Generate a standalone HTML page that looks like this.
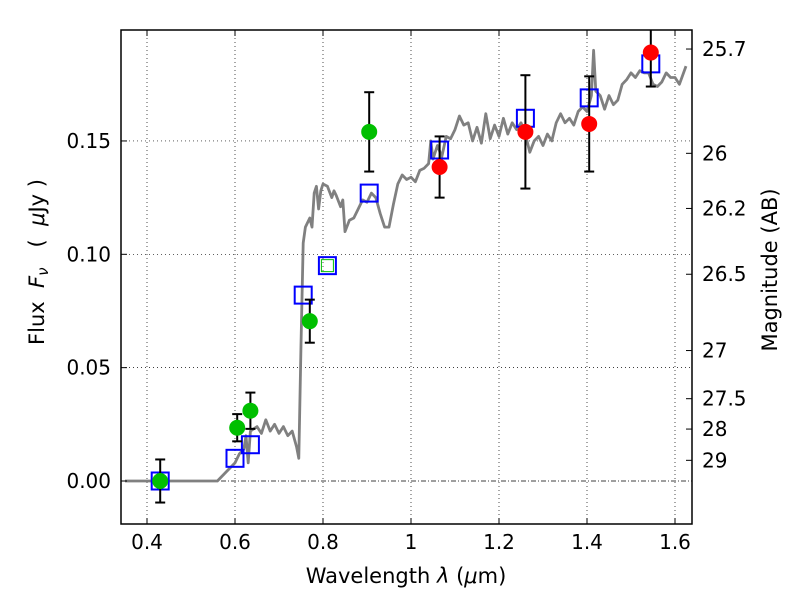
<!DOCTYPE html>
<html><head><meta charset="utf-8"><style>
body{margin:0;background:#fff}
svg{display:block;font-family:"DejaVu Sans","Liberation Sans",sans-serif}
</style></head><body>
<svg id="c" width="800" height="600"><defs><clipPath id="clip"><rect x="121" y="30" width="571" height="494"/></clipPath></defs></svg>
<script>
const modelWave=[0.35,0.56,0.58,0.60,0.61,0.62,0.625,0.63,0.635,0.65,0.66,0.67,0.68,0.69,0.70,0.71,0.72,0.73,0.74,0.745,0.75,0.755,0.76,0.77,0.775,0.78,0.785,0.79,0.795,0.80,0.81,0.82,0.825,0.83,0.84,0.845,0.85,0.86,0.87,0.88,0.89,0.90,0.91,0.92,0.93,0.94,0.95,0.96,0.97,0.98,0.99,1.00,1.01,1.02,1.03,1.04,1.045,1.05,1.06,1.07,1.08,1.09,1.10,1.11,1.12,1.13,1.14,1.15,1.16,1.17,1.18,1.19,1.20,1.21,1.22,1.23,1.24,1.25,1.26,1.27,1.28,1.29,1.30,1.31,1.32,1.33,1.34,1.35,1.36,1.37,1.38,1.39,1.40,1.41,1.415,1.42,1.43,1.44,1.45,1.46,1.47,1.48,1.49,1.50,1.51,1.52,1.53,1.54,1.55,1.56,1.57,1.58,1.59,1.60,1.61,1.625];
const modelFlux=[0,0,0.004,0.008,0.012,0.014,0.02,0.008,0.022,0.024,0.021,0.027,0.022,0.025,0.021,0.024,0.02,0.022,0.015,0.01,0.06,0.105,0.112,0.116,0.112,0.127,0.13,0.12,0.128,0.131,0.13,0.125,0.128,0.126,0.121,0.124,0.11,0.115,0.116,0.12,0.124,0.123,0.127,0.125,0.118,0.112,0.112,0.122,0.131,0.135,0.133,0.134,0.132,0.137,0.138,0.14,0.15,0.142,0.148,0.143,0.152,0.151,0.155,0.161,0.157,0.158,0.15,0.156,0.149,0.162,0.151,0.157,0.152,0.16,0.153,0.158,0.155,0.158,0.153,0.145,0.15,0.152,0.148,0.153,0.15,0.158,0.162,0.158,0.16,0.157,0.163,0.165,0.163,0.17,0.19,0.172,0.17,0.164,0.17,0.166,0.168,0.175,0.177,0.18,0.178,0.181,0.18,0.18,0.175,0.174,0.176,0.18,0.178,0.178,0.175,0.183];
const greenWave=[0.43,0.605,0.635,0.77,0.905];
const greenFlux=[0.0,0.0235,0.031,0.0705,0.154];
const greenErr=[0.0095,0.006,0.008,0.0095,0.0175];
const redWave=[1.065,1.26,1.405,1.545];
const redFlux=[0.1385,0.154,0.1575,0.189];
const redErr=[0.0135,0.025,0.021,0.015];
const modelBandWave=[0.43,0.6,0.635,0.755,0.81,0.905,1.065,1.26,1.405,1.545];
const modelBandFlux=[0.0,0.01,0.016,0.082,0.095,0.127,0.146,0.16,0.169,0.184];
const xTicks=[0.4,0.6,0.8,1.0,1.2,1.4,1.6];
const xTickLabels=["0.4","0.6","0.8","1","1.2","1.4","1.6"];
const yTicks=[0,0.05,0.10,0.15];
const yTickLabels=["0.00","0.05","0.10","0.15"];
const magTicks=[25.7,26,26.2,26.5,27,27.5,28,29];
const magTickLabels=["25.7","26","26.2","26.5","27","27.5","28","29"];

const L=121,R=692,T=30,B=524;
const X=v=>147+(v-0.4)*440;
const Y=v=>481-v*2267;
const NS="http://www.w3.org/2000/svg";
const svg=document.getElementById('c');
function mk(tag,attrs,parent){const e=document.createElementNS(NS,tag);for(const k in attrs)e.setAttribute(k,attrs[k]);(parent||svg).appendChild(e);return e;}

const grid=mk('g',{});


xTicks.forEach(v=>mk('line',{x1:X(v),x2:X(v),y1:T,y2:B,stroke:'#000','stroke-width':0.7,'stroke-dasharray':'1,3'},grid));
yTicks.forEach(v=>{if(v>0)mk('line',{x1:L,x2:R,y1:Y(v),y2:Y(v),stroke:'#000','stroke-width':0.7,'stroke-dasharray':'1,3'},grid);});
const zl=mk('line',{x1:L,x2:R,y1:Y(0),y2:Y(0),stroke:'#000','stroke-width':0.7,'stroke-dasharray':'5,2,1,2'});



const plot=mk('g',{'clip-path':'url(#clip)'});



let d='';
modelWave.forEach((w,i)=>{d+=(i?'L':'M')+X(w).toFixed(1)+','+Y(modelFlux[i]).toFixed(1);});
const sp=mk('path',{d:d,fill:'none',stroke:'#808080','stroke-width':2.8,'stroke-linejoin':'round'},plot);



modelBandWave.forEach((w,i)=>{
  const s=mk('rect',{x:X(w)-8.5,y:Y(modelBandFlux[i])-8.5,width:17,height:17,fill:'none',stroke:'#0000ff','stroke-width':2},plot);
  
  
});
const gs=mk('rect',{x:X(modelBandWave[4])-6,y:Y(modelBandFlux[4])-6,width:12,height:12,fill:'none',stroke:'#00bf00','stroke-width':1},plot);



function pts(wave,flux,err,color,name){
  wave.forEach((w,i)=>{
    const x=X(w),y1=Y(flux[i]-err[i]),y2=Y(flux[i]+err[i]);
    const g=mk('g',{},plot);
    
    
    mk('line',{x1:x,x2:x,y1:y1,y2:y2,stroke:'#000','stroke-width':2},g);
    mk('line',{x1:x-5,x2:x+5,y1:y1,y2:y1,stroke:'#000','stroke-width':2},g);
    mk('line',{x1:x-5,x2:x+5,y1:y2,y2:y2,stroke:'#000','stroke-width':2},g);
    const c=mk('circle',{cx:x,cy:Y(flux[i]),r:8,fill:color},plot);
    
    
  });
}
pts(greenWave,greenFlux,greenErr,'#00bf00','optical');
pts(redWave,redFlux,redErr,'#ff0000','nir');

const fr=mk('rect',{x:L,y:T,width:R-L,height:B-T,fill:'none',stroke:'#000','stroke-width':1.5});



xTicks.forEach((v,i)=>{
  mk('line',{x1:X(v),x2:X(v),y1:B,y2:B-6,stroke:'#000'});
  mk('line',{x1:X(v),x2:X(v),y1:T,y2:T+6,stroke:'#000'});
  const t=mk('text',{x:X(v),y:B+25,'font-size':20,'text-anchor':'middle'});
  t.textContent=xTickLabels[i];
  
  
});
yTicks.forEach((v,i)=>{
  mk('line',{x1:L,x2:L+6,y1:Y(v),y2:Y(v),stroke:'#000'});
  const t=mk('text',{x:L-10,y:Y(v)+7,'font-size':20,'text-anchor':'end'});
  t.textContent=yTickLabels[i];
  
  
});
magTicks.forEach((m,i)=>{
  const y=Y(Math.pow(10,(23.9-m)/2.5));
  mk('line',{x1:R,x2:R-6,y1:y,y2:y,stroke:'#000'});
  const t=mk('text',{x:R+10,y:y+7,'font-size':20});
  t.textContent=magTickLabels[i];
  
  
});
</script>
<svg width="800" height="600" style="position:absolute;left:0;top:0">
<text x="406" y="583" font-size="21" text-anchor="middle" font-family="DejaVu Sans,Liberation Sans,sans-serif">Wavelength  <tspan font-style="italic">λ</tspan> (<tspan font-style="italic">μ</tspan>m)</text>
<text transform="translate(44,262) rotate(-90)" font-size="21" text-anchor="middle" font-family="DejaVu Sans,Liberation Sans,sans-serif" xml:space="preserve">Flux  <tspan font-style="italic">F</tspan><tspan font-style="italic" font-size="15" dy="4">ν</tspan><tspan dy="-4">   (  </tspan><tspan font-style="italic">μ</tspan>Jy )</text>
<text transform="translate(777,270) rotate(-90)" font-size="21" text-anchor="middle" font-family="DejaVu Sans,Liberation Sans,sans-serif">Magnitude (AB)</text>
</svg>
</body></html>
